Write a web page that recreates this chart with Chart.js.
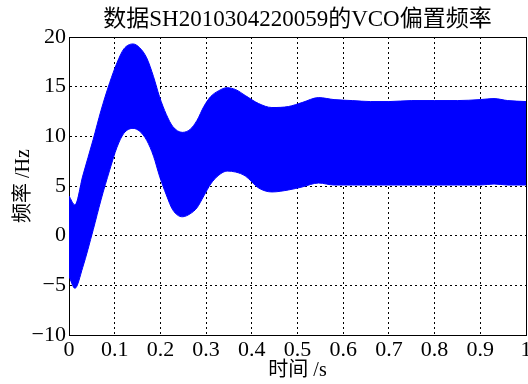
<!DOCTYPE html>
<html>
<head>
<meta charset="utf-8">
<script src="https://cdn.jsdelivr.net/npm/chart.js@4"></script>
<style>
  body { margin: 0; background: #fff; }
  #box { width: 528px; height: 384px; }
</style>
</head>
<body>
<div id="box"><canvas id="vcoChart"></canvas></div>
<script>
// tiempos (s)
const tiempo = [0, 0.013, 0.03, 0.053, 0.07, 0.089, 0.105, 0.12, 0.14, 0.155, 0.17, 0.185, 0.198,
  0.213, 0.227, 0.248, 0.265, 0.28, 0.295, 0.31, 0.328, 0.346, 0.365, 0.386, 0.415, 0.444,
  0.48, 0.51, 0.546, 0.58, 0.62, 0.66, 0.7, 0.75, 0.8, 0.85, 0.9, 0.93, 0.96, 1.0];
// envolvente superior de la banda (Hz)
const superior = [4.0, 3.1, 6.0, 9.7, 12.6, 15.4, 17.4, 18.8, 19.3, 18.9, 17.9, 16.0, 14.0,
  12.2, 11.0, 10.4, 10.7, 11.6, 13.0, 14.0, 14.6, 14.9, 14.7, 14.1, 13.3, 12.9,
  13.0, 13.4, 13.9, 13.7, 13.6, 13.5, 13.5, 13.6, 13.6, 13.6, 13.7, 13.8, 13.6, 13.5];
// envolvente inferior de la banda (Hz)
const inferior = [-4.1, -5.3, -3.2, 0.6, 3.6, 6.6, 8.9, 10.3, 10.8, 10.5, 9.6, 8.0, 6.0,
  4.1, 2.6, 1.9, 2.2, 2.8, 4.0, 5.2, 6.1, 6.5, 6.4, 6.0, 4.8, 4.4,
  4.6, 4.9, 5.3, 5.1, 5.1, 5.1, 5.1, 5.1, 5.1, 5.1, 5.1, 5.2, 5.1, 5.1];

const titulo = "数据SH2010304220059的VCO偏置频率";
const tituloX = "时间 /s";
const tituloY = "频率 /Hz";

const fuente = "'Liberation Serif', 'Noto Sans CJK SC', serif";
const rejilla = { color: "#000", lineWidth: 1, drawTicks: false };
const borde = { display: true, color: "#000", width: 1, dash: [2, 3] };

function puntos(valores) {
  return tiempo.map((t, i) => ({ x: t, y: valores[i] }));
}

new Chart(document.getElementById("vcoChart"), {
  type: "line",
  data: {
    datasets: [
      {
        data: puntos(inferior),
        borderColor: "#0000ff",
        borderWidth: 1,
        pointRadius: 0,
        cubicInterpolationMode: "monotone",
        fill: false,
      },
      {
        data: puntos(superior),
        borderColor: "#0000ff",
        backgroundColor: "#0000ff",
        borderWidth: 1,
        pointRadius: 0,
        cubicInterpolationMode: "monotone",
        fill: "-1",
      },
    ],
  },
  options: {
    responsive: true,
    maintainAspectRatio: false,
    animation: false,
    layout: { padding: 0 },
    plugins: {
      legend: { display: false },
      tooltip: { enabled: false },
      title: {
        display: true,
        text: titulo,
        fullSize: false,
        color: "#000",
        font: { family: fuente, size: 23, weight: "normal", lineHeight: 1.2 },
        padding: { top: 6, bottom: 3.4 },
      },
    },
    scales: {
      x: {
        type: "linear",
        min: 0,
        max: 1,
        ticks: {
          stepSize: 0.1,
          color: "#000",
          padding: 2,
          maxRotation: 0,
          font: { family: fuente, size: 22 },
          callback: (v) => String(Number(v.toFixed(1))),
        },
        grid: rejilla,
        border: borde,
        title: {
          display: true,
          text: tituloX,
          color: "#000",
          font: { family: fuente, size: 20 },
          padding: { top: 0, bottom: 1 },
        },
        afterFit: (s) => {
          s.height = 49;
          s.paddingLeft = 0;
          s.paddingRight = 0;
        },
      },
      y: {
        min: -10,
        max: 20,
        ticks: {
          stepSize: 5,
          color: "#000",
          padding: 3,
          font: { family: fuente, size: 22 },
          callback: (v) => String(v).replace("-", "\u2212"),
        },
        grid: rejilla,
        border: borde,
        title: {
          display: true,
          text: tituloY,
          color: "#000",
          font: { family: fuente, size: 20 },
          padding: { top: 12, bottom: 0 },
        },
        afterFit: (s) => {
          s.width = 69;
          s.paddingTop = 0;
          s.paddingBottom = 0;
        },
      },
      xTop: {
        type: "linear",
        position: "top",
        ticks: { display: false },
        grid: { drawOnChartArea: false, drawTicks: false },
        border: { display: true, color: "#000", width: 1 },
        afterFit: (s) => { s.height = 0; },
      },
      yRight: {
        position: "right",
        ticks: { display: false },
        grid: { drawOnChartArea: false, drawTicks: false },
        border: { display: true, color: "#000", width: 1 },
        afterFit: (s) => { s.width = 2; },
      },
    },
  },
});
</script>
</body>
</html>
